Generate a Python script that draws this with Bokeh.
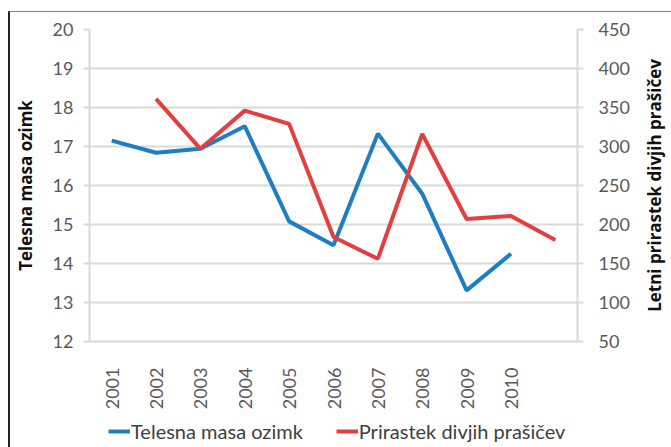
import math
from bokeh.plotting import figure
from bokeh.layouts import row, column
from bokeh.models import (Range1d, LinearAxis, FactorRange, Legend, LegendItem,
                          SingleIntervalTicker, FixedTicker, ColumnDataSource)
from bokeh.embed import file_html
from bokeh.resources import INLINE

years = ["2001", "2002", "2003", "2004", "2005", "2006", "2007", "2008", "2009", "2010", " "]
blue_years = years[:10]
blue_vals = [17.15, 16.84, 16.94, 17.52, 15.08, 14.47, 17.33, 15.79, 13.31, 14.25]
red_years = years[1:]
red_vals = [361, 297, 346, 329, 184, 156, 316, 207, 211, 180]

blue_name = "Telesna masa ozimk"
red_name = "Prirastek divjih prašičev"
left_title = "Telesna masa ozimk"
right_title = "Letni prirastek divjih prašičev"

BLUE = "#1f7dc2"
RED = "#e0403f"
FONT = "Lato"
TITLE_FONT = "Open Sans"
TITLE_SIZE = "17px"
TICK_COLOR = "#595959"
TITLE_COLOR = "#111111"
GRID = "#d9d9d9"

ROW_H = 401
TOP_B = 17
BOT_B = 72

# ---------------- main chart ----------------
p = figure(width=624, height=ROW_H, output_backend="svg", toolbar_location=None,
           x_range=FactorRange(factors=years, range_padding=0),
           y_range=Range1d(12, 20),
           min_border_left=76, min_border_right=57, min_border_top=TOP_B,
           min_border_bottom=BOT_B)
p.outline_line_color = None
p.extra_y_ranges = {"right": Range1d(50, 450)}

src_b = ColumnDataSource(dict(x=blue_years, y=blue_vals))
src_r = ColumnDataSource(dict(x=red_years, y=red_vals))
rb = p.line("x", "y", source=src_b, line_color=BLUE, line_width=4)
rr = p.line("x", "y", source=src_r, line_color=RED, line_width=4, y_range_name="right")

p.xgrid.grid_line_color = None
p.ygrid.grid_line_color = GRID
p.ygrid.grid_line_width = 2
p.yaxis.ticker = SingleIntervalTicker(interval=1)

def style_y(ax, standoff):
    ax.major_label_text_font = FONT
    ax.major_label_text_font_size = "18px"
    ax.major_label_text_color = TICK_COLOR
    ax.major_label_standoff = standoff
    ax.axis_line_color = GRID
    ax.axis_line_width = 2
    ax.major_tick_line_color = GRID
    ax.major_tick_line_width = 2
    ax.major_tick_out = 6
    ax.major_tick_in = 0
    ax.minor_tick_line_color = None

def style_title(ax, title, standoff):
    ax.axis_label = title
    ax.axis_label_text_font = TITLE_FONT
    ax.axis_label_text_font_style = "bold"
    ax.axis_label_text_font_size = TITLE_SIZE
    ax.axis_label_text_color = TITLE_COLOR
    ax.axis_label_standoff = standoff

la = p.yaxis[0]
style_y(la, 10)
style_title(la, left_title, 13)

ra = LinearAxis(y_range_name="right", ticker=SingleIntervalTicker(interval=50))
style_y(ra, 15)
p.add_layout(ra, "right")

xa = p.xaxis[0]
xa.major_label_orientation = math.pi / 2
xa.major_label_text_font = FONT
xa.major_label_text_font_size = "18px"
xa.major_label_text_color = TICK_COLOR
xa.major_label_standoff = 20
xa.axis_line_color = GRID
xa.axis_line_width = 2
xa.major_tick_line_color = None
xa.minor_tick_line_color = None

# ---------------- right axis title (reads bottom-to-top) ----------------
rfig = figure(width=37, height=ROW_H, output_backend="svg", toolbar_location=None,
              x_range=Range1d(0, 1), y_range=Range1d(0, 1), x_axis_location=None,
              min_border_left=35, min_border_right=0, min_border_top=TOP_B,
              min_border_bottom=BOT_B)
rfig.grid.visible = False
rfig.outline_line_color = None
tax = rfig.yaxis[0]
tax.ticker = FixedTicker(ticks=[])
tax.major_label_text_font_size = "0px"
tax.major_label_standoff = 0
tax.major_tick_out = 0
tax.major_tick_in = 0
tax.minor_tick_out = 0
tax.minor_tick_in = 0
tax.axis_line_color = None
tax.major_tick_line_color = None
tax.minor_tick_line_color = None
style_title(tax, right_title, 4)

# ---------------- legend ----------------
gfig = figure(width=661, height=34, output_backend="svg", toolbar_location=None,
              x_range=Range1d(0, 1), y_range=Range1d(0, 1),
              x_axis_location=None, y_axis_location=None, min_border=0)
gfig.grid.visible = False
gfig.outline_line_color = None
nan = float("nan")
lb = gfig.line(x=[nan], y=[nan], line_color=BLUE, line_width=4)
lr = gfig.line(x=[nan], y=[nan], line_color=RED, line_width=4)
legend = Legend(items=[LegendItem(label=blue_name, renderers=[lb]),
                       LegendItem(label=red_name, renderers=[lr])],
                orientation="horizontal", location=(98, 4))
legend.label_text_font = FONT
legend.label_text_font_size = "20px"
legend.label_text_color = "#404040"
legend.glyph_width = 22
legend.glyph_height = 20
legend.label_height = 20
legend.label_standoff = 1
legend.spacing = 33
legend.border_line_color = None
legend.background_fill_alpha = 0
legend.padding = 0
legend.margin = 0
gfig.add_layout(legend)

layout = column(row(p, rfig, spacing=0), gfig, spacing=0)
layout.styles = {"margin-left": "8px", "margin-top": "11px",
                 "border-left": "2px solid #222222", "border-top": "1px solid #808080"}

open("out.html", "w").write(file_html(layout, INLINE))
